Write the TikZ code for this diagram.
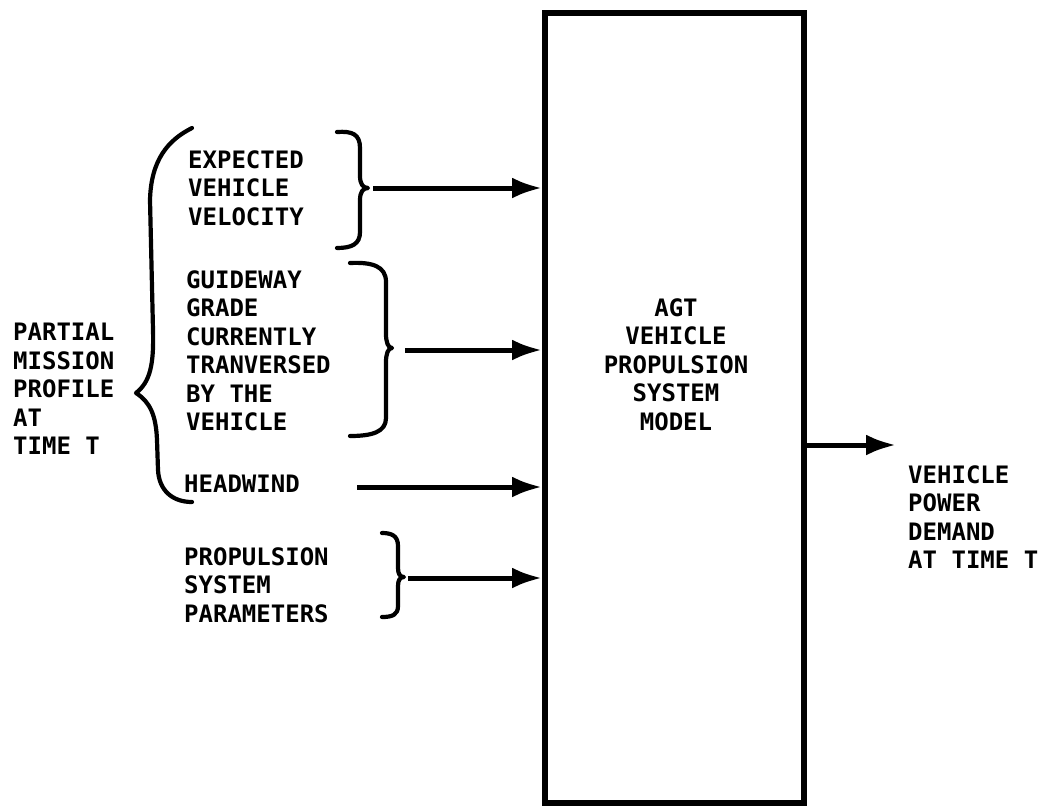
\documentclass[tikz,border=0pt]{standalone}
\usepackage{fontspec}
\setmonofont{DejaVu Sans Mono}
\usetikzlibrary{arrows.meta}
\begin{document}
\begin{tikzpicture}[x=1pt,y=-1pt,
  lbl/.style={anchor=north west,inner sep=0,align=left,font=\ttfamily\bfseries\fontsize{24}{28.5}\selectfont},
  clbl/.style={anchor=north,inner sep=0,align=center,font=\ttfamily\bfseries\fontsize{24}{28.5}\selectfont},
  brace/.style={line width=4.2pt,line cap=round,line join=round},
  flow/.style={line width=5pt,-{Latex[length=30pt,width=21pt]}}]
\useasboundingbox (0,0) rectangle (1047,809);
% main box
\node[draw,line width=6pt,minimum width=259pt,minimum height=790pt,inner sep=0] (box) at (674.5,408) {};
\node[clbl] (model) at (676,298) {AGT\\VEHICLE\\PROPULSION\\SYSTEM\\MODEL};
% texts
\node[lbl] (pmp) at (13,323) {PARTIAL\\MISSION\\PROFILE\\AT\\TIME T};
\node[lbl] (evv) at (188,150) {EXPECTED\\VEHICLE\\VELOCITY};
\node[lbl] (ggc) at (186,270) {GUIDEWAY\\GRADE\\CURRENTLY\\TRANVERSED\\BY THE\\VEHICLE};
\node[lbl] (hw) at (184,475) {HEADWIND};
\node[lbl] (psp) at (184,547) {PROPULSION\\SYSTEM\\PARAMETERS};
\node[lbl] (vpd) at (908,465) {VEHICLE\\POWER\\DEMAND\\AT TIME T};
% big left brace
\draw[brace] (192,128) .. controls (168,140) and (151,160) .. (150,200) -- (153,330)
  .. controls (154,365) and (150,382) .. (136,393)
  .. controls (150,402) and (156,415) .. (157,440) -- (158,470)
  .. controls (159,490) and (172,502) .. (192,502);
% right brace 1
\draw[brace] (337,132) .. controls (352,131) and (360,134) .. (360,148) -- (360,176)
  .. controls (360,184) and (363,188) .. (368,188)
  .. controls (363,188) and (360,192) .. (360,200) -- (360,232)
  .. controls (360,244) and (352,248) .. (337,248);
% right brace 2
\draw[brace] (350,263) .. controls (372,262) and (386,266) .. (386,282) -- (386,334)
  .. controls (386,342) and (388,348) .. (392,348)
  .. controls (388,348) and (386,354) .. (386,362) -- (386,418)
  .. controls (386,432) and (372,436) .. (350,436);
% right brace 4
\draw[brace] (382,533) .. controls (392,533) and (398,536) .. (398,546) -- (398,568)
  .. controls (398,574) and (400,577) .. (404,577)
  .. controls (400,577) and (398,580) .. (398,586) -- (398,606)
  .. controls (398,615) and (392,617) .. (382,617);
% arrows
\coordinate (a1) at (373,188);
\coordinate (a2) at (405,350);
\coordinate (a3) at (357,487);
\coordinate (a4) at (408,578);
\coordinate (ao) at (896,445);
\draw[flow] (a1) -- (a1 -| box.west);
\draw[flow] (a2) -- (a2 -| box.west);
\draw[flow] (a3) -- (a3 -| box.west);
\draw[flow] (a4) -- (a4 -| box.west);
\draw[flow] (ao -| box.east) -- (ao);
\end{tikzpicture}
\end{document}
